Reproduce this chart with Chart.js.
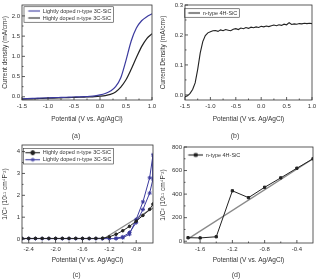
<!DOCTYPE html>
<html>
<head>
<meta charset="utf-8">
<script src="https://cdn.jsdelivr.net/npm/chart.js@4.4.0/dist/chart.umd.min.js"></script>
<style>
  body { margin: 0; background: #fff; width: 318px; height: 279px; position: relative; overflow: hidden; }
  .panel { position: absolute; }
</style>
</head>
<body>
<div class="panel" style="left:0;top:0"><canvas id="ca" width="158" height="140"></canvas></div>
<div class="panel" style="left:158px;top:0"><canvas id="cb" width="160" height="140"></canvas></div>
<div class="panel" style="left:0;top:140px"><canvas id="cc" width="158" height="139"></canvas></div>
<div class="panel" style="left:158px;top:140px"><canvas id="cd" width="160" height="139"></canvas></div>
<script>
// (a) photocurrent, 3C-SiC
const potA = [-1.5,-1.4,-1.3,-1.2,-1.1,-1.0,-0.9,-0.8,-0.7,-0.6,-0.5,-0.4,-0.3,-0.2,-0.1,0.0,0.1,0.2,0.3,0.4,0.5,0.6,0.7,0.8,0.9,1.0];
const lightA = [-0.05,-0.045,-0.04,-0.035,-0.03,-0.026,-0.022,-0.018,-0.014,-0.01,-0.006,-0.002,0.004,0.012,0.024,0.045,0.08,0.14,0.25,0.47,0.9,1.38,1.7,1.88,1.98,2.05];
const highA = [-0.06,-0.055,-0.05,-0.045,-0.04,-0.036,-0.032,-0.028,-0.024,-0.02,-0.016,-0.012,-0.007,-0.002,0.005,0.015,0.03,0.06,0.12,0.24,0.42,0.68,0.97,1.24,1.44,1.56];
const ticksAX = [-1.5,-1.0,-0.5,0.0,0.5,1.0];
const ticksAY = [0.0,0.5,1.0,1.5,2.0];

// (b) photocurrent, 4H-SiC
const potB = [-1.5,-1.45,-1.4,-1.35,-1.3,-1.25,-1.2,-1.15,-1.1,-1.05,-1.0,-0.95,-0.9,-0.85,-0.8,-0.75,-0.7,-0.65,-0.6,-0.55,-0.5,-0.45,-0.4,-0.35,-0.3,-0.25,-0.2,-0.15,-0.1,-0.05,0.0,0.05,0.1,0.15,0.2,0.25,0.3,0.35,0.4,0.45,0.5,0.55,0.6,0.65,0.7,0.75,0.8,0.85,0.9,0.95,1.0];
const densB = [-0.006,-0.003,0.005,0.018,0.04,0.085,0.14,0.178,0.198,0.207,0.211,0.214,0.215,0.212,0.217,0.214,0.218,0.216,0.214,0.219,0.221,0.218,0.223,0.221,0.225,0.222,0.226,0.224,0.227,0.225,0.229,0.227,0.23,0.228,0.231,0.233,0.231,0.234,0.232,0.236,0.234,0.241,0.235,0.237,0.236,0.238,0.237,0.239,0.238,0.239,0.238];
const ticksBX = [-1.5,-1.0,-0.5,0.0,0.5,1.0];
const ticksBY = [0.0,0.1,0.2,0.3];

// (c) Mott-Schottky, 3C-SiC
const potCHigh = [-2.5,-2.4,-2.3,-2.2,-2.1,-2.0,-1.9,-1.8,-1.7,-1.6,-1.5,-1.4,-1.3,-1.2,-1.1,-1.0,-0.9,-0.8,-0.7,-0.6,-0.55];
const highC = [0.03,0.03,0.03,0.03,0.03,0.03,0.03,0.03,0.03,0.03,0.03,0.03,0.04,0.1,0.22,0.38,0.58,0.82,1.08,1.36,1.6];
const potCLight = [-2.5,-2.4,-2.3,-2.2,-2.1,-2.0,-1.9,-1.8,-1.7,-1.6,-1.5,-1.4,-1.3,-1.2,-1.1,-1.0,-0.9,-0.8,-0.7,-0.6,-0.55,-0.55,-0.6,-0.7,-0.8,-0.9,-1.0,-1.1];
const lightC = [0.02,0.02,0.02,0.02,0.02,0.02,0.02,0.02,0.02,0.02,0.02,0.02,0.02,0.02,0.02,0.06,0.22,0.9,1.7,2.8,3.85,2.75,2.1,1.35,0.75,0.3,0.1,0.04];
const fitCX = [-1.32,-0.55];
const fitCY = [-0.05,1.42];
const ticksCX = [-2.4,-2.0,-1.6,-1.2,-0.8];
const ticksCY = [0,1,2,3,4];

// (d) Mott-Schottky, 4H-SiC
const potD = [-1.75,-1.6,-1.4,-1.2,-1.0,-0.8,-0.6,-0.4,-0.2];
const capD = [30,28,38,428,370,458,538,620,700];
const fitDX = [-1.75,-0.2];
const fitDY = [20,700];
const ticksDX = [-1.6,-1.2,-0.8,-0.4];
const ticksDY = [0,200,400,600,800];

const FONT = '"Liberation Sans", Arial, sans-serif';
const TXT = '#333';
const BLUE = '#3b3a9e';
const BLACK = '#222';
const GREY = '#8a8a8a';

const pts = (xs, ys) => xs.map((x, i) => ({ x, y: ys[i] }));

// legend picture: short line (with optional marker), left margin m, line length w
function sample(color, style, m, w) {
  const c = document.createElement('canvas');
  c.width = m + w; c.height = 7;
  const g = c.getContext('2d');
  g.strokeStyle = color; g.fillStyle = color; g.lineWidth = 1.1;
  g.beginPath(); g.moveTo(m, 3.5); g.lineTo(m + w, 3.5); g.stroke();
  if (style) {
    g.lineWidth = 1;
    Chart.helpers.drawPoint(g, { pointStyle: style, radius: 2, borderWidth: 1 }, m + w / 2, 3.5);
    g.fill();
  }
  return c;
}

const frame = {
  id: 'frame',
  afterDraw(chart, args, opts) {
    const { ctx, chartArea: a, scales: { x, y } } = chart;
    ctx.save();
    ctx.strokeStyle = '#333';
    ctx.lineWidth = 0.8;
    ctx.strokeRect(a.left, a.top, a.width, a.height);
    const marks = (scale, len, minor) => {
      const v = scale.ticks.map(t => t.value);
      const out = v.map(t => [t, len]);
      for (let i = 0; i < v.length - 1; i++) out.push([(v[i] + v[i + 1]) / 2, minor]);
      return out;
    };
    ctx.beginPath();
    marks(x, 3, 1.5).forEach(([v, l]) => {
      const px = x.getPixelForValue(v);
      if (px < a.left || px > a.right) return;
      ctx.moveTo(px, a.bottom); ctx.lineTo(px, a.bottom - l);
    });
    marks(y, 3, 1.5).forEach(([v, l]) => {
      const py = y.getPixelForValue(v);
      if (py < a.top || py > a.bottom) return;
      ctx.moveTo(a.left, py); ctx.lineTo(a.left + l, py);
    });
    ctx.stroke();
    if (opts.box && chart.legend && chart.legend.legendHitBoxes.length) {
      const hb = chart.legend.legendHitBoxes;
      const l = Math.min(...hb.map(h => h.left)) + opts.boxL;
      const t = Math.min(...hb.map(h => h.top)) - 1.5;
      const r = Math.max(...hb.map(h => h.left + h.width)) + 2;
      const b = Math.max(...hb.map(h => h.top + h.height)) + 1.5;
      ctx.lineWidth = 0.6;
      ctx.strokeRect(l, t, r - l, b - t);
    }
    ctx.restore();
  }
};

function panel(id, datasets, o) {
  return new Chart(document.getElementById(id), {
    type: 'scatter',
    data: { datasets },
    options: {
      responsive: false,
      animation: false,
      layout: { padding: o.pad },
      plugins: {
        tooltip: { enabled: false },
        frame: { box: o.box, boxL: o.boxL },
        subtitle: {
          display: true, position: 'bottom', text: o.cap, color: '#444',
          font: { family: FONT, size: 7, weight: 'normal' }, padding: { top: o.capPad, bottom: 0 }
        },
        legend: {
          position: 'chartArea',
          align: 'start',
          // empty title only pushes the legend rows down
          title: { display: true, text: '', font: { size: 1, lineHeight: 1 }, padding: { top: o.lt, bottom: 0 } },
          labels: {
            font: { family: FONT, size: 5.5, lineHeight: 1 },
            color: TXT,
            usePointStyle: true,
            pointStyleWidth: o.sw,
            padding: 1.5,
            filter: item => item.text !== '',
            generateLabels: chart => {
              const items = Chart.defaults.plugins.legend.labels.generateLabels(chart);
              items.forEach(it => {
                const ds = chart.data.datasets[it.datasetIndex];
                if (ds.legendSample) it.pointStyle = ds.legendSample;
              });
              return items;
            }
          }
        }
      },
      scales: {
        x: {
          type: 'linear', min: o.xMin, max: o.xMax,
          grid: { display: false, drawTicks: false }, border: { display: false },
          afterBuildTicks: s => { s.ticks = o.xTicks.map(v => ({ value: v })); },
          afterFit: s => { s.height = o.xH; s.paddingLeft = 0; s.paddingRight = 0; },
          ticks: { font: { family: FONT, size: 6 }, color: TXT, padding: 3, maxRotation: 0, autoSkip: false,
                   callback: v => o.xFmt(v) },
          title: { display: true, text: 'Potential (V vs. Ag/AgCl)', font: { family: FONT, size: 6.5 }, color: TXT,
                   padding: { top: 0, bottom: o.xTitlePad } }
        },
        y: {
          type: 'linear', min: o.yMin, max: o.yMax,
          grid: { display: false, drawTicks: false }, border: { display: false },
          afterBuildTicks: s => { s.ticks = o.yTicks.map(v => ({ value: v })); },
          afterFit: s => { s.width = o.yW; s.paddingTop = 0; s.paddingBottom = 0; },
          ticks: { font: { family: FONT, size: 6 }, color: TXT, padding: 2, autoSkip: false,
                   callback: v => o.yFmt(v) },
          title: { display: true, text: o.yTitle, font: { family: FONT, size: 6.5 }, color: TXT,
                   padding: { top: 1, bottom: 0 } }
        }
      }
    },
    plugins: [frame]
  });
}

const f1 = v => v.toFixed(1);
const f0 = v => String(Math.round(v));

panel('ca', [
  { label: 'Lightly doped n-type 3C-SiC', data: pts(potA, lightA), showLine: true, borderColor: BLUE,
    backgroundColor: BLUE, borderWidth: 1.2, pointRadius: 0, cubicInterpolationMode: 'monotone',
    legendSample: sample(BLUE, null, 4.5, 12) },
  { label: 'Highly doped n-type 3C-SiC', data: pts(potA, highA), showLine: true, borderColor: BLACK,
    backgroundColor: BLACK, borderWidth: 1.2, pointRadius: 0, cubicInterpolationMode: 'monotone',
    legendSample: sample(BLACK, null, 4.5, 12) }
], { pad: { left: 0, top: 5, right: 6, bottom: 0 }, box: true, boxL: 0.5, sw: 16.5, lt: 5.75,
     cap: '(a)', capPad: 5.6,
     xMin: -1.5, xMax: 1.0, xTicks: ticksAX, xFmt: f1, xH: 26, xTitlePad: 3,
     yMin: -0.08, yMax: 2.27, yTicks: ticksAY, yFmt: f1, yW: 22, yTitle: 'Current density (mA/cm²)' });

panel('cb', [
  { label: 'n-type 4H-SiC', data: pts(potB, densB), showLine: true, borderColor: BLACK,
    backgroundColor: BLACK, borderWidth: 1.1, pointRadius: 0, legendSample: sample(BLACK, null, 1.5, 12) }
], { pad: { left: 0, top: 5, right: 6, bottom: 0 }, box: true, boxL: -2, sw: 13.5, lt: 7.75,
     cap: '(b)', capPad: 5.6,
     xMin: -1.5, xMax: 1.0, xTicks: ticksBX, xFmt: f1, xH: 26, xTitlePad: 3,
     yMin: -0.017, yMax: 0.3, yTicks: ticksBY, yFmt: f1, yW: 27, yTitle: 'Current Density (mA/cm²)' });

panel('cc', [
  { label: 'Highly doped n-type 3C-SiC', data: pts(potCHigh, highC), showLine: true, borderColor: BLACK,
    backgroundColor: BLACK, borderWidth: 1, pointRadius: 1.3, pointStyle: 'circle', legendSample: sample(BLACK, 'circle', 1.5, 15) },
  { label: 'Lightly doped n-type 3C-SiC', data: pts(potCLight, lightC), showLine: true, borderColor: BLUE,
    backgroundColor: BLUE, borderWidth: 1, pointRadius: 2, pointStyle: 'star', legendSample: sample(BLUE, 'star', 1.5, 15) },
  { label: '', data: pts(fitCX, fitCY), showLine: true, borderColor: GREY, borderWidth: 1.2, pointRadius: 0 }
], { pad: { left: 0, top: 5, right: 5, bottom: 0 }, box: true, boxL: 0, sw: 16.5, lt: 7.5,
     cap: '(c)', capPad: 4.6,
     xMin: -2.5, xMax: -0.55, xTicks: ticksCX, xFmt: f1, xH: 23, xTitlePad: 2,
     yMin: -0.18, yMax: 4.3, yTicks: ticksCY, yFmt: f0, yW: 22, yTitle: '1/C² (10¹¹ cm⁴F⁻²)' });

panel('cd', [
  { label: 'n-type 4H-SiC', data: pts(potD, capD), showLine: true, borderColor: BLACK,
    backgroundColor: BLACK, borderWidth: 1, pointRadius: 1.6, pointStyle: 'rect', legendSample: sample(BLACK, 'rect', 2.5, 15) },
  { label: '', data: pts(fitDX, fitDY), showLine: true, borderColor: GREY, borderWidth: 1.4, pointRadius: 0 }
], { pad: { left: 0, top: 7, right: 4, bottom: 0 }, box: false, boxL: 0, sw: 17.5, lt: 9.75,
     cap: '(d)', capPad: 4.6,
     xMin: -1.8, xMax: -0.2, xTicks: ticksDX, xFmt: f1, xH: 23, xTitlePad: 2,
     yMin: -15, yMax: 800, yTicks: ticksDY, yFmt: f0, yW: 26, yTitle: '1/C² (10¹¹ cm⁴F⁻²)' });
</script>
</body>
</html>
